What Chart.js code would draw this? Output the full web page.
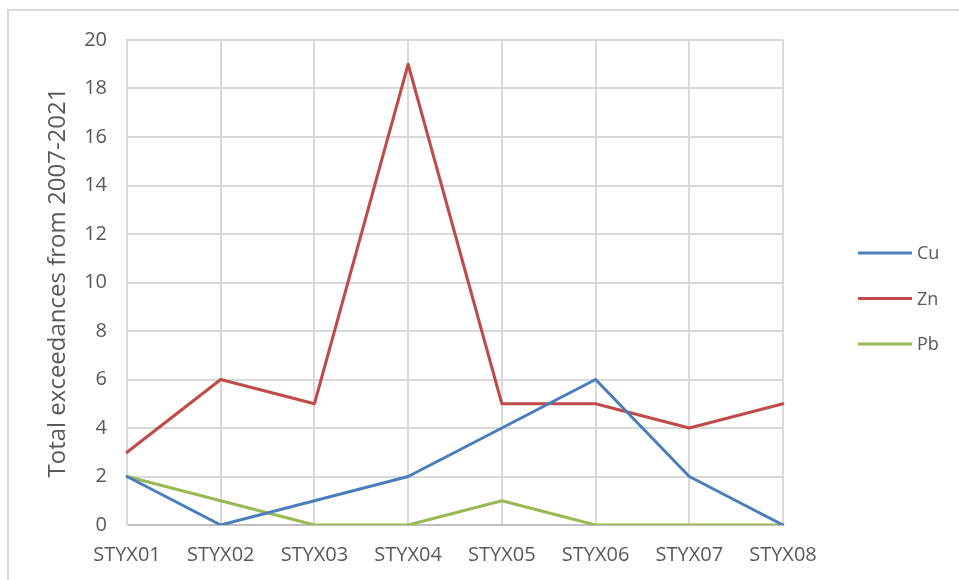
<!DOCTYPE html>
<html>
<head>
<meta charset="utf-8">
<script src="https://cdn.jsdelivr.net/npm/chart.js@4/dist/chart.umd.min.js"></script>
<style>
  html, body { margin: 0; padding: 0; background: #fff; }
  body { width: 959px; height: 580px; position: relative; overflow: hidden; }
  #frame { position: absolute; left: 7px; top: 9px; width: 1000px; height: 700px;
           border: 2px solid #d9d9d9; box-sizing: border-box; }
  #wrap { position: absolute; left: 0; top: 0; width: 959px; height: 580px; }
</style>
</head>
<body>
<div id="frame"></div>
<div id="wrap"><canvas id="c" width="959" height="580"></canvas></div>
<script>
// Sampling sites along the Styx
const sites = ['STYX01', 'STYX02', 'STYX03', 'STYX04', 'STYX05', 'STYX06', 'STYX07', 'STYX08'];

// Total exceedances per metal, 2007-2021
const cu = [2, 0, 1, 2, 4, 6, 2, 0];
const zn = [3, 6, 5, 19, 5, 5, 4, 5];
const pb = [2, 1, 0, 0, 1, 0, 0, 0];

const yTicks = [0, 2, 4, 6, 8, 10, 12, 14, 16, 18, 20];

const axisTitle = 'Total exceedances from 2007-2021';
const FONT = "'Open Sans', 'Noto Sans', sans-serif";
const TEXT = '#595959';

// Legend drawn at the right of the plot: short line sample then label
const sideLegend = {
  id: 'sideLegend',
  afterDraw(chart, args, opts) {
    const ctx = chart.ctx;
    ctx.save();
    chart.data.datasets.forEach((ds, i) => {
      const y = opts.top + i * opts.step;
      ctx.strokeStyle = ds.borderColor;
      ctx.lineWidth = 3;
      ctx.beginPath();
      ctx.moveTo(opts.x, y);
      ctx.lineTo(opts.x + opts.lineLen, y);
      ctx.stroke();
      ctx.fillStyle = TEXT;
      ctx.font = opts.font;
      ctx.textBaseline = 'middle';
      ctx.textAlign = 'left';
      ctx.fillText(ds.label, opts.x + opts.lineLen + opts.gap, y + 1);
    });
    ctx.restore();
  }
};

new Chart(document.getElementById('c'), {
  type: 'line',
  data: {
    labels: sites,
    datasets: [
      { label: 'Cu', data: cu, borderColor: '#4A7EBB', backgroundColor: '#4A7EBB' },
      { label: 'Zn', data: zn, borderColor: '#BE4B48', backgroundColor: '#BE4B48' },
      { label: 'Pb', data: pb, borderColor: '#98B954', backgroundColor: '#98B954' }
    ]
  },
  options: {
    responsive: false,
    animation: false,
    devicePixelRatio: 1,
    layout: { padding: { left: 0, top: 40, right: 176, bottom: 0 } },
    elements: {
      line: { borderWidth: 3, tension: 0, borderCapStyle: 'round', borderJoinStyle: 'round' },
      point: { radius: 0, hoverRadius: 0 }
    },
    plugins: {
      legend: { display: false },
      tooltip: { enabled: false },
      sideLegend: { x: 858, lineLen: 54, gap: 5, top: 253, step: 45.5, font: '18px ' + FONT }
    },
    scales: {
      x: {
        offset: false,
        grid: { color: '#d9d9d9', lineWidth: 2, drawTicks: false },
        border: { color: '#bfbfbf', width: 2 },
        ticks: { color: TEXT, font: { family: FONT, size: 20 }, padding: 18, maxRotation: 0, autoSkip: false },
        afterFit(scale) { scale.height = 55; }
      },
      y: {
        min: 0,
        max: 20,
        afterBuildTicks(scale) { scale.ticks = yTicks.map(v => ({ value: v })); },
        grid: {
          color: c => (c.tick && c.tick.value === 0) ? '#bfbfbf' : '#d9d9d9',
          lineWidth: 2,
          drawTicks: false
        },
        border: { color: '#d9d9d9', width: 2 },
        ticks: { color: TEXT, font: { family: FONT, size: 20 }, padding: 20 },
        title: {
          display: true,
          text: axisTitle,
          color: TEXT,
          font: { family: FONT, size: 24 },
          padding: { top: 44, bottom: 0 }
        },
        afterFit(scale) { scale.width = 127; }
      }
    }
  },
  plugins: [sideLegend]
});
</script>
</body>
</html>
